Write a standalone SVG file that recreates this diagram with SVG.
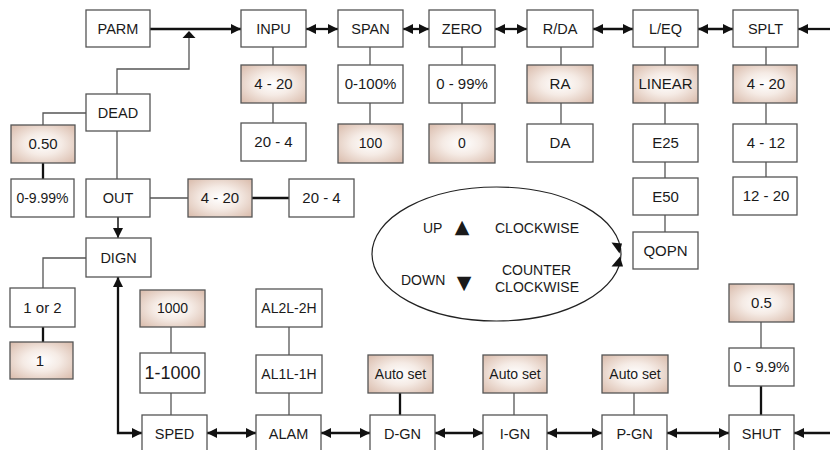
<svg xmlns="http://www.w3.org/2000/svg" width="830" height="450" viewBox="0 0 830 450">
<defs>
<radialGradient id="shade" cx="50%" cy="50%" r="65%">
<stop offset="0" stop-color="#ffffff"/>
<stop offset="0.45" stop-color="#f5ebe5"/>
<stop offset="1" stop-color="#dcc0b1"/>
</radialGradient>
<marker id="ah" viewBox="0 0 10 10" refX="10" refY="5" markerWidth="10" markerHeight="10" markerUnits="userSpaceOnUse" orient="auto-start-reverse">
<path d="M0,0 L10,5 L0,10 z" fill="#111"/>
</marker>
</defs>
<style>
rect{fill:#fff;stroke:#555;stroke-width:1.3}
rect.s{fill:url(#shade)}
text{font-family:"Liberation Sans",Arial,Helvetica,sans-serif;font-size:15px;fill:#1a1a1a;text-anchor:middle}
text.k{font-size:14.5px}
text.sm{font-size:14px}
text.big{font-size:18px}
text.e{font-size:14px;text-anchor:start}
text.sym{font-family:"DejaVu Sans",sans-serif;font-size:19px}
.thin{fill:none;stroke:#555;stroke-width:1.3}
.thick{fill:none;stroke:#111;stroke-width:2.3}
.med{fill:none;stroke:#222;stroke-width:1.6}
.arr{marker-start:url(#ah);marker-end:url(#ah)}
.one{marker-end:url(#ah)}
</style>

<g id="connectors">
<line class="thick one" x1="150" y1="29" x2="241" y2="29"/>
<line class="thick arr" x1="306" y1="29" x2="338" y2="29"/>
<line class="thick arr" x1="403" y1="29" x2="429" y2="29"/>
<line class="thick arr" x1="495" y1="29" x2="527" y2="29"/>
<line class="thick arr" x1="593" y1="29" x2="633" y2="29"/>
<line class="thick arr" x1="698" y1="29" x2="733" y2="29"/>
<line class="thick one" x1="830" y1="29" x2="798" y2="29"/>
<polyline class="thin" points="117,94 117,69 189,69 189,37"/>
<polygon points="182.5,38 195.5,38 189,31" fill="#111"/>
<line class="thin" x1="273" y1="47" x2="273" y2="65"/>
<line class="thin" x1="273" y1="103" x2="273" y2="123"/>
<line class="thin" x1="370" y1="47" x2="370" y2="65"/>
<line class="thin" x1="370" y1="103" x2="370" y2="124"/>
<line class="thin" x1="462" y1="47" x2="462" y2="65"/>
<line class="thin" x1="462" y1="103" x2="462" y2="124"/>
<line class="thin" x1="561" y1="47" x2="561" y2="65"/>
<line class="thin" x1="561" y1="103" x2="561" y2="124"/>
<line class="thin" x1="665" y1="47" x2="665" y2="65"/>
<line class="thin" x1="665" y1="103" x2="665" y2="124"/>
<line class="thin" x1="665" y1="162" x2="665" y2="178"/>
<line class="thin" x1="665" y1="215" x2="665" y2="232"/>
<line class="thin" x1="766" y1="47" x2="766" y2="65"/>
<line class="thin" x1="766" y1="103" x2="766" y2="124"/>
<line class="thin" x1="766" y1="162" x2="766" y2="177"/>
<polyline class="thin" points="86,113 43,113 43,125"/>
<line class="thick" x1="43" y1="163" x2="43" y2="179"/>
<line class="thin" x1="117" y1="131" x2="117" y2="179"/>
<line class="thin" x1="150" y1="198" x2="188" y2="198"/>
<line class="thick" x1="252" y1="198" x2="289" y2="198"/>
<line class="med one" x1="118" y1="217" x2="118" y2="238"/>
<polyline class="thin" points="86,258 43,258 43,288"/>
<line class="thick" x1="43" y1="327" x2="43" y2="342"/>
<polyline class="thick arr" points="118,277 118,433 142,433"/>
<line class="thin" x1="171" y1="327" x2="171" y2="353"/>
<line class="thin" x1="171" y1="393" x2="171" y2="415"/>
<line class="thin" x1="289" y1="327" x2="289" y2="355"/>
<line class="thin" x1="289" y1="393" x2="289" y2="415"/>
<line class="thick" x1="400" y1="393" x2="400" y2="415"/>
<line class="thin" x1="514" y1="393" x2="514" y2="415"/>
<line class="thin" x1="634" y1="393" x2="634" y2="415"/>
<line class="thin" x1="761" y1="322" x2="761" y2="348"/>
<line class="thick" x1="761" y1="386" x2="761" y2="415"/>
<line class="thick arr" x1="207" y1="433" x2="256" y2="433"/>
<line class="thick arr" x1="321" y1="433" x2="370" y2="433"/>
<line class="thick arr" x1="435" y1="433" x2="483" y2="433"/>
<line class="thick arr" x1="547" y1="433" x2="602" y2="433"/>
<line class="thick arr" x1="667" y1="433" x2="729" y2="433"/>
<line class="thick one" x1="830" y1="433" x2="794" y2="433"/>
</g>

<g id="n-parm"><rect x="86" y="10" width="64" height="37"/><text class="k" x="118" y="34">PARM</text></g>
<g id="n-inpu"><rect x="241" y="10" width="65" height="37"/><text class="k" x="273.5" y="34">INPU</text></g>
<g id="n-span"><rect x="338" y="10" width="65" height="37"/><text class="k" x="370.5" y="34">SPAN</text></g>
<g id="n-zero"><rect x="429" y="10" width="66" height="37"/><text class="k" x="462" y="34">ZERO</text></g>
<g id="n-rda"><rect x="527" y="10" width="66" height="37"/><text class="k" x="560" y="34">R/DA</text></g>
<g id="n-leq"><rect x="633" y="10" width="65" height="37"/><text class="k" x="665.5" y="34">L/EQ</text></g>
<g id="n-splt"><rect x="733" y="10" width="65" height="37"/><text class="k" x="765.5" y="34">SPLT</text></g>

<g id="n-inpu-420"><rect class="s" x="241" y="65" width="65" height="38"/><text x="273.5" y="89">4 - 20</text></g>
<g id="n-inpu-204"><rect x="241" y="123" width="65" height="38"/><text x="273.5" y="147">20 - 4</text></g>
<g id="n-span-range"><rect x="338" y="65" width="65" height="38"/><text x="370.5" y="89">0-100%</text></g>
<g id="n-span-100"><rect class="s" x="338" y="124" width="65" height="39"/><text class="sm" x="370.5" y="148">100</text></g>
<g id="n-zero-range"><rect x="429" y="65" width="66" height="38"/><text x="462" y="89">0 - 99%</text></g>
<g id="n-zero-0"><rect class="s" x="429" y="124" width="66" height="39"/><text class="sm" x="462" y="148">0</text></g>
<g id="n-ra"><rect class="s" x="527" y="65" width="66" height="38"/><text x="560" y="89">RA</text></g>
<g id="n-da"><rect x="527" y="124" width="66" height="38"/><text x="560" y="148">DA</text></g>
<g id="n-linear"><rect class="s" x="633" y="65" width="65" height="38"/><text x="665.5" y="89">LINEAR</text></g>
<g id="n-e25"><rect x="633" y="124" width="65" height="38"/><text x="665.5" y="148">E25</text></g>
<g id="n-e50"><rect x="633" y="178" width="65" height="37"/><text x="665.5" y="202">E50</text></g>
<g id="n-qopn"><rect x="633" y="232" width="65" height="37"/><text x="665.5" y="256">QOPN</text></g>
<g id="n-splt-420"><rect class="s" x="733" y="65" width="64" height="38"/><text x="766" y="89">4 - 20</text></g>
<g id="n-splt-412"><rect x="733" y="124" width="64" height="38"/><text x="766" y="148">4 - 12</text></g>
<g id="n-splt-1220"><rect x="733" y="177" width="64" height="38"/><text x="766" y="201">12 - 20</text></g>

<g id="n-dead"><rect x="86" y="94" width="64" height="37"/><text class="k" x="118" y="118">DEAD</text></g>
<g id="n-dead-050"><rect class="s" x="11" y="125" width="64" height="38"/><text x="43" y="149">0.50</text></g>
<g id="n-dead-range"><rect x="11" y="179" width="63" height="38"/><text class="sm" x="42.5" y="203">0-9.99%</text></g>
<g id="n-out"><rect x="86" y="179" width="64" height="38"/><text class="k" x="118" y="203">OUT</text></g>
<g id="n-out-420"><rect class="s" x="188" y="179" width="64" height="38"/><text x="220" y="203">4 - 20</text></g>
<g id="n-out-204"><rect x="289" y="179" width="65" height="38"/><text x="321.5" y="203">20 - 4</text></g>
<g id="n-dign"><rect x="86" y="238" width="65" height="39"/><text class="k" x="118.5" y="263">DIGN</text></g>
<g id="n-dign-range"><rect x="10" y="288" width="65" height="39"/><text x="42.5" y="313">1 or 2</text></g>
<g id="n-dign-1"><rect class="s" x="10" y="342" width="63" height="37"/><text x="40" y="366">1</text></g>

<g id="n-sped-1000"><rect class="s" x="140" y="290" width="65" height="37"/><text class="sm" x="172.5" y="313">1000</text></g>
<g id="n-sped-range"><rect x="140" y="353" width="65" height="40"/><text class="big" x="172.5" y="379">1-1000</text></g>
<g id="n-al2"><rect x="256" y="289" width="66" height="38"/><text class="sm" x="289" y="313">AL2L-2H</text></g>
<g id="n-al1"><rect x="256" y="355" width="66" height="38"/><text class="sm" x="289" y="379">AL1L-1H</text></g>
<g id="n-dgn-auto"><rect class="s" x="368" y="355" width="65" height="38"/><text class="sm" x="400.5" y="379">Auto set</text></g>
<g id="n-ign-auto"><rect class="s" x="483" y="355" width="64" height="38"/><text class="sm" x="515" y="379">Auto set</text></g>
<g id="n-pgn-auto"><rect class="s" x="602" y="355" width="66" height="38"/><text class="sm" x="635" y="379">Auto set</text></g>
<g id="n-shut-05"><rect class="s" x="729" y="284" width="65" height="38"/><text x="761.5" y="308">0.5</text></g>
<g id="n-shut-range"><rect x="729" y="348" width="65" height="38"/><text x="761.5" y="372">0 - 9.9%</text></g>

<g id="n-sped"><rect x="142" y="415" width="65" height="39"/><text class="k" x="174.5" y="439">SPED</text></g>
<g id="n-alam"><rect x="256" y="415" width="65" height="39"/><text class="k" x="288.5" y="439">ALAM</text></g>
<g id="n-dgn"><rect x="370" y="415" width="65" height="39"/><text class="k" x="402.5" y="439">D-GN</text></g>
<g id="n-ign"><rect x="483" y="415" width="64" height="39"/><text class="k" x="515" y="439">I-GN</text></g>
<g id="n-pgn"><rect x="602" y="415" width="65" height="39"/><text class="k" x="634.5" y="439">P-GN</text></g>
<g id="n-shut"><rect x="729" y="415" width="65" height="39"/><text class="k" x="761.5" y="439">SHUT</text></g>

<g id="n-legend">
<ellipse cx="496.5" cy="254" rx="124.5" ry="67" fill="none" stroke="#222" stroke-width="1.2"/>
<polygon points="611.5,242.5 622,243.5 619.5,253.5" fill="#111"/>
<polygon points="611.5,266.5 620,256.5 623,266.5" fill="#111"/>
<text class="e" x="423" y="233">UP</text>
<text class="sym" x="462" y="233">▲</text>
<text class="e" x="495" y="233">CLOCKWISE</text>
<text class="e" x="401" y="285">DOWN</text>
<text class="sym" x="464" y="289">▼</text>
<text class="e" x="502" y="275">COUNTER</text>
<text class="e" x="495" y="292">CLOCKWISE</text>
</g>
</svg>
